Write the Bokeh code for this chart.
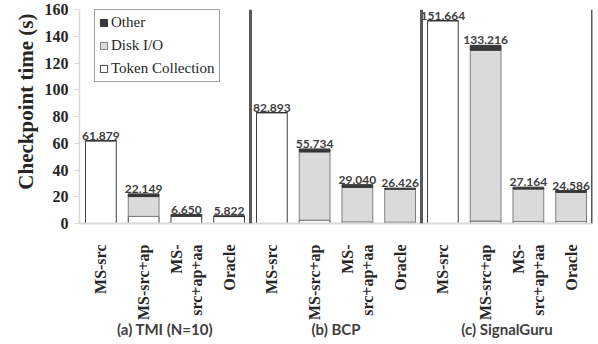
import math
from bokeh.plotting import figure
from bokeh.models import Range1d, Span, Legend, LegendItem, SingleIntervalTicker, FixedTicker, LinearAxis, Title
from bokeh.core.properties import value
from bokeh.embed import file_html
from bokeh.resources import INLINE

groups = ["(a) TMI (N=10)", "(b) BCP", "(c) SignalGuru"]
methods = ["MS-src", "MS-src+ap", "MS-\nsrc+ap+aa", "Oracle"]

totals = [61.879, 22.149, 6.650, 5.822,
          82.893, 55.734, 29.040, 26.426,
          151.664, 133.216, 27.164, 24.586]
token = [61.879, 5.3, 5.45, 5.2,
         82.893, 2.5, 1.2, 1.0,
         151.664, 1.8, 1.5, 1.5]
disk = [0.0, 14.849, 0.0, 0.0,
        0.0, 51.034, 25.84, 24.626,
        0.0, 127.716, 24.264, 21.786]
other = [0.0, 2.0, 1.2, 0.622,
         0.0, 2.2, 2.0, 0.8,
         0.0, 3.7, 1.4, 1.3]

n_m = len(methods)
n = len(groups) * n_m
xs = [i + 0.5 for i in range(n)]
labels = ["%.3f" % t for t in totals]

p = figure(x_range=Range1d(0, n), y_range=Range1d(0, 160), width=598, height=344,
           output_backend="svg", toolbar_location=None,
           min_border_left=79, min_border_right=6, min_border_top=9, min_border_bottom=121)
p.outline_line_color = None
p.xgrid.grid_line_color = None
p.ygrid.grid_line_color = None

data = dict(x=xs, token=token, disk=disk, other=other, total=totals, label=labels)
rs = p.vbar_stack(["token", "disk", "other"], x="x", width=0.72, source=data,
                  fill_color=["white", "#dadada", "#3a3a3a"],
                  line_color=["#404040", "#7f7f7f", "#333333"], line_width=1)

p.text(x="x", y="total", text="label", source=data, text_align="center",
       text_baseline="bottom", y_offset=-1, text_font=value("Lato"),
       text_font_style="bold", text_font_size="12px", text_color="#404040")

for gi in range(1, len(groups) + 1):
    p.add_layout(Span(location=gi * n_m, dimension="height", line_color="#595959", line_width=3))

legend = Legend(items=[LegendItem(label="Other", renderers=[rs[2]]),
                       LegendItem(label="Disk I/O", renderers=[rs[1]]),
                       LegendItem(label="Token Collection", renderers=[rs[0]])],
                location=(15, 141))
legend.margin = 0
legend.padding = 4
legend.spacing = 6
legend.glyph_width = 9
legend.glyph_height = 9
legend.label_height = 9
legend.label_standoff = 3
legend.label_text_font = "Liberation Serif"
legend.label_text_font_size = "15px"
legend.label_text_color = "#262626"
legend.border_line_color = "#404040"
legend.border_line_width = 1
legend.background_fill_alpha = 1
p.add_layout(legend)

ytitle = Title(text="Checkpoint time (s)", align="right", offset=4, standoff=8,
               text_font="Liberation Serif", text_font_style="bold",
               text_font_size="21px", text_color="#262626")
p.add_layout(ytitle, "left")

ya = p.yaxis[0]
ya.ticker = SingleIntervalTicker(interval=20)
ya.major_label_text_font = "Liberation Serif"
ya.major_label_text_font_style = "bold"
ya.major_label_text_font_size = "16px"
ya.major_label_text_color = "#262626"
ya.axis_line_color = "#d9d9d9"
ya.axis_line_width = 1.5
ya.major_tick_line_color = "#d9d9d9"
ya.major_tick_out = 5
ya.major_tick_in = 0
ya.minor_tick_line_color = None
ya.major_label_standoff = 6

xa = p.xaxis[0]
xa.ticker = FixedTicker(ticks=xs)
xa.major_label_overrides = {x: methods[i % n_m] for i, x in enumerate(xs)}
xa.major_label_orientation = math.pi / 2
xa.major_label_text_font = "Liberation Serif"
xa.major_label_text_font_style = "bold"
xa.major_label_text_font_size = "16px"
xa.major_label_text_color = "#262626"
xa.major_label_standoff = 15
xa.axis_line_color = "#d9d9d9"
xa.axis_line_width = 2
xa.major_tick_line_color = None
xa.minor_tick_line_color = None

group_ticks = [gi * n_m + n_m / 2 for gi in range(len(groups))]
ga = LinearAxis(ticker=FixedTicker(ticks=group_ticks),
                major_label_overrides={t: groups[i] for i, t in enumerate(group_ticks)})
ga.axis_line_color = None
ga.major_tick_line_color = None
ga.minor_tick_line_color = None
ga.major_label_standoff = -9
ga.major_label_text_font = "Lato"
ga.major_label_text_font_style = "bold"
ga.major_label_text_font_size = "15px"
ga.major_label_text_color = "#404040"
p.add_layout(ga, "below")

open("out.html", "w").write(file_html(p, INLINE))
